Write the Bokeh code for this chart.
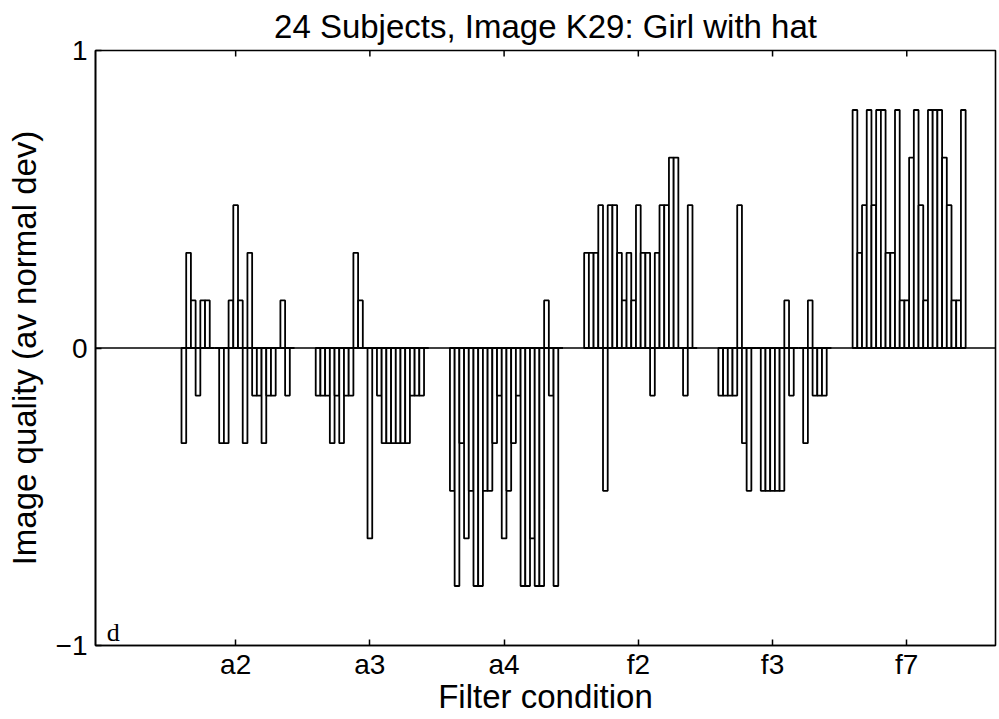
from bokeh.plotting import figure
from bokeh.models import FixedTicker, Range1d, Span, Label, ColumnDataSource
from bokeh.embed import file_html
from bokeh.resources import INLINE

title_text = "24 Subjects, Image K29: Girl with hat"
x_label = "Filter condition"
y_label = "Image quality (av normal dev)"
panel_tag = "d"
conditions = ["a2", "a3", "a4", "f2", "f3", "f7"]
y_ticks = [-1, 0, 1]

# one value per subject (24 subjects) for each filter condition
a2 = [-0.32, 0.32, 0.16, -0.16, 0.16, 0.16, 0, 0, -0.32, -0.32, 0.16, 0.48,
      0.16, -0.32, 0.32, -0.16, -0.16, -0.32, -0.16, -0.16, 0, 0.16, -0.16, 0]
a3 = [-0.16, -0.16, -0.16, -0.32, -0.16, -0.32, -0.16, -0.16, 0.32, 0.16, 0, -0.64,
      0, -0.16, -0.32, -0.32, -0.32, -0.32, -0.32, -0.32, -0.16, -0.16, -0.16, 0]
a4 = [-0.48, -0.80, -0.32, -0.64, -0.48, -0.80, -0.80, -0.48, -0.48, -0.32, -0.16, -0.64,
      -0.48, -0.32, -0.16, -0.80, -0.80, -0.64, -0.80, -0.80, 0.16, -0.16, -0.80, 0]
f2 = [0.32, 0.32, 0.32, 0.48, -0.48, 0.48, 0.48, 0.32, 0.16, 0.32, 0.16, 0.48,
      0.32, 0.32, -0.16, 0.32, 0.48, 0.48, 0.64, 0.64, 0, -0.16, 0.48, 0]
f3 = [-0.16, -0.16, -0.16, -0.16, 0.48, -0.32, -0.48, 0, 0, -0.48, -0.48, -0.48,
      -0.48, -0.48, 0.16, -0.16, 0, 0, -0.32, 0.16, -0.16, -0.16, -0.16, 0]
f7 = [0.80, 0.32, 0.48, 0.80, 0.48, 0.80, 0.80, 0.32, 0.32, 0.80, 0.16, 0.16,
      0.64, 0.80, 0.48, 0.16, 0.80, 0.80, 0.80, 0.64, 0.48, 0.16, 0.16, 0.80]

series = [a2, a3, a4, f2, f3, f7]
FONT = "Liberation Sans"
STEP = 28.5  # slots between group starts

xs, tops = [], []
for g, vals in enumerate(series):
    for k, v in enumerate(vals):
        xs.append(g * STEP + k + 0.5)
        tops.append(v)
source = ColumnDataSource(dict(x=xs, top=tops))
tick_pos = [g * STEP + 11.5 for g in range(len(conditions))]

x0 = -18.26
x1 = x0 + 191.1
p = figure(width=999, height=719, output_backend="svg", toolbar_location=None,
           x_range=Range1d(x0, x1), y_range=Range1d(-1, 1),
           min_border_left=95, min_border_right=4, min_border_top=50, min_border_bottom=74,
           background_fill_color="white", border_fill_color="white")

p.vbar(x="x", top="top", bottom=0, width=1.0, source=source,
       fill_color="white", line_color="black", line_width=1.8)
p.add_layout(Span(location=0, dimension="width", line_color="black", line_width=1.6))

# inward tick marks along the top edge, at the same group positions
tick_len = 2.0 / 595 * 6
p.segment(x0=tick_pos, x1=tick_pos, y0=[1] * len(tick_pos),
          y1=[1 - tick_len] * len(tick_pos), line_color="black", line_width=1.5)

p.xgrid.visible = False
p.ygrid.visible = False
p.outline_line_color = "black"
p.outline_line_width = 1.6

p.title.text = title_text
p.title.align = "center"
p.title.vertical_align = "middle"
p.title.text_font = FONT
p.title.text_font_size = "33px"
p.title.text_font_style = "normal"
p.title.text_color = "black"
p.title.offset = 0
p.title.standoff = 10

xa = p.xaxis[0]
xa.ticker = FixedTicker(ticks=tick_pos)
xa.major_label_overrides = {t: c for t, c in zip(tick_pos, conditions)}
xa.axis_label = x_label
ya = p.yaxis[0]
ya.ticker = FixedTicker(ticks=y_ticks)
ya.axis_label = y_label
for ax in (xa, ya):
    ax.major_label_text_font = FONT
    ax.major_label_text_font_size = "28px"
    ax.axis_label_text_font = FONT
    ax.axis_label_text_font_size = "33px"
    ax.axis_label_text_font_style = "normal"
    ax.axis_label_text_color = "black"
    ax.major_label_text_color = "black"
    ax.major_tick_in = 6
    ax.major_tick_out = 0
    ax.minor_tick_line_color = None
    ax.axis_line_width = 1.6
    ax.major_tick_line_width = 1.5
ya.axis_label_standoff = 10
ya.major_label_standoff = 8
xa.axis_label_standoff = -5
xa.major_label_standoff = 3

p.add_layout(Label(x=x0 + 2.4, y=-0.955, text=panel_tag, text_font="Liberation Serif",
                   text_font_size="26px", text_baseline="alphabetic", text_color="black"))

open("out.html", "w").write(file_html(p, INLINE))
